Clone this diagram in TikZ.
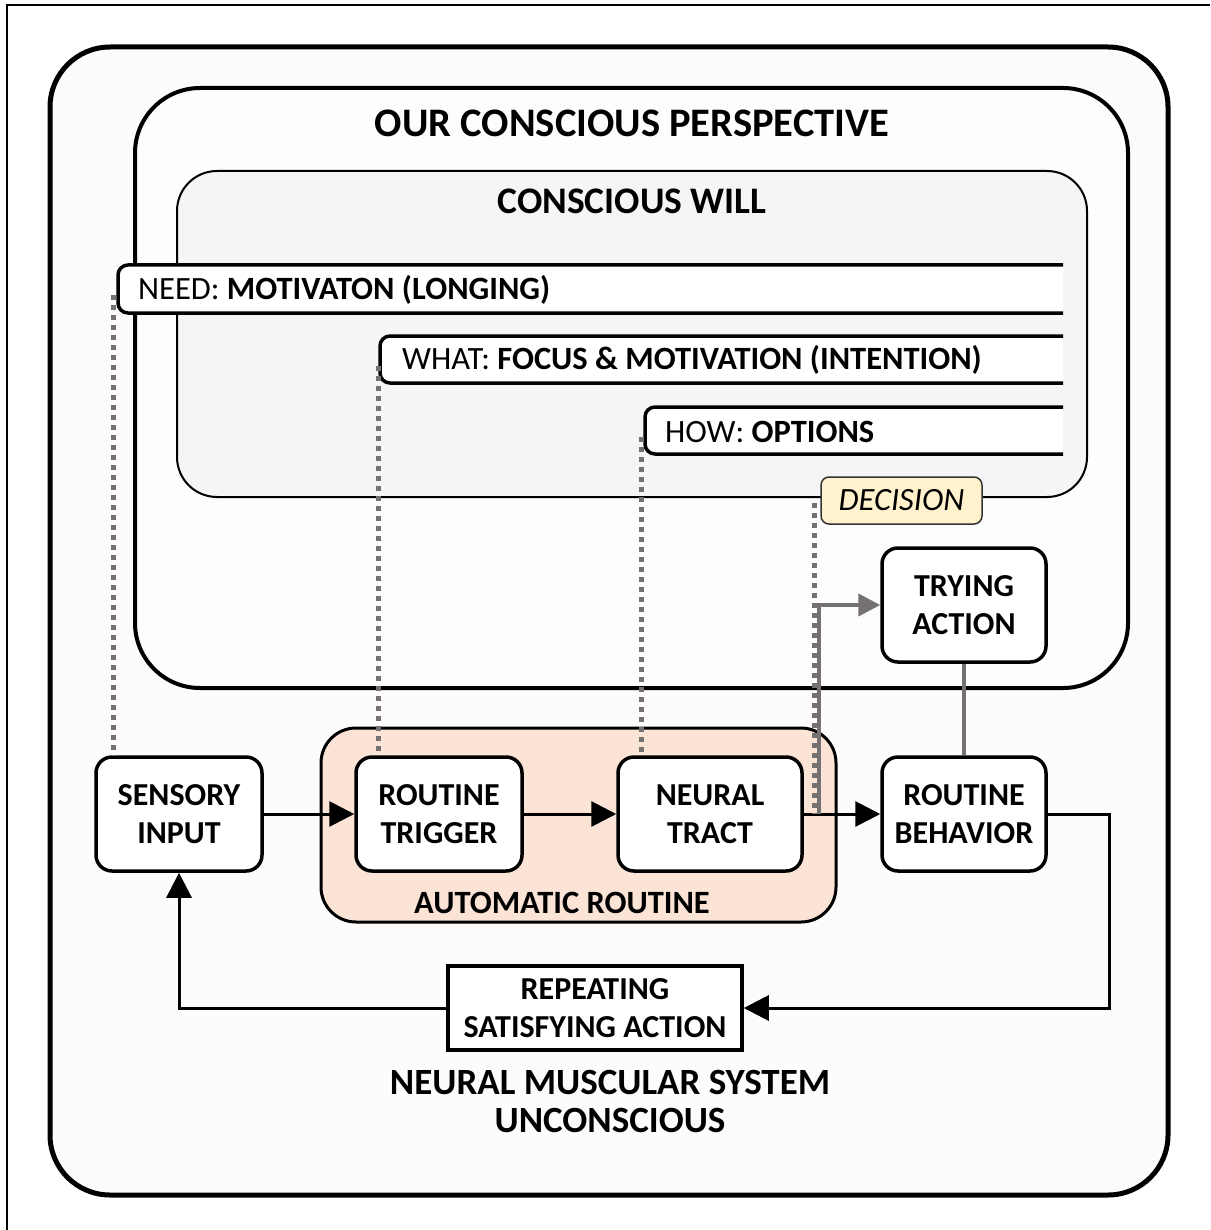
\documentclass[tikz,border=0pt]{standalone}
\usepackage{fontspec}
\setmainfont{Carlito}
\usetikzlibrary{arrows.meta}

\definecolor{fondext}{HTML}{FDFCFB}
\definecolor{fondpersp}{HTML}{FDFDFD}
\definecolor{fondvol}{HTML}{F5F5F5}
\definecolor{rose}{HTML}{FBE3D6}
\definecolor{creme}{HTML}{FFF2CC}
\definecolor{gris}{HTML}{767171}

\tikzset{
  boite/.style={draw, line width=3.5pt, rounded corners=16pt, fill=white,
    minimum width=166pt, minimum height=114pt, align=center, inner sep=0pt,
    font=\fontsize{32}{38}\selectfont\bfseries},
  fleche/.style={-{Triangle[length=25pt,width=25pt]}, line width=3pt},
  flechegrise/.style={-{Triangle[length=22pt,width=22pt]}, line width=4pt, gris},
  pointille/.style={gris, line width=5pt, dash pattern=on 5pt off 5pt},
  barre/.style={line width=3.5pt, rounded corners=10pt, fill=white},
  texte/.style={anchor=west, inner sep=0pt, font=\fontsize{32.5}{38}\selectfont},
}

\begin{document}
\begin{tikzpicture}[x=1pt, y=-1pt]
	\useasboundingbox (0,0) rectangle (1210,1230);
	% Cadre
	\draw[line width=2pt] (7,1230) -- (7,5) -- (1210,5);

	% Systeme inconscient
	\draw[line width=5pt, fill=fondext, rounded corners=60pt] (50,47) rectangle (1168,1195);
	\node[align=center, font=\fontsize{37}{38}\selectfont\bfseries] (inconscient) at (610,1101)
		{NEURAL MUSCULAR SYSTEM\\UNCONSCIOUS};

	% Perspective consciente
	\draw[line width=4pt, fill=fondpersp, rounded corners=65pt] (135,88) rectangle (1128,688);
	\node[font=\fontsize{40.5}{48}\selectfont\bfseries] (titre) at (632,123) {OUR CONSCIOUS PERSPECTIVE};

	% Volonte consciente
	\draw[line width=2pt, fill=fondvol, rounded corners=40pt] (177,171) rectangle (1087,497);
	\node[font=\fontsize{37.5}{42}\selectfont\bfseries] (volonte) at (632,201) {CONSCIOUS WILL};

	% Barres ouvertes a droite
	\filldraw[barre] (1063,265) -- (118,265) -- (118,313) -- (1063,313);
	\filldraw[barre] (1063,336) -- (380,336) -- (380,383) -- (1063,383);
	\filldraw[barre] (1063,407) -- (645,407) -- (645,454) -- (1063,454);
	\node[texte] (besoin) at (138,290) {NEED: \textbf{MOTIVATON (LONGING)}};
	\node[texte] (quoi) at (402,360) {WHAT: \textbf{FOCUS \& MOTIVATION (INTENTION)}};
	\node[texte] (comment) at (665,432) {HOW: \textbf{OPTIONS}};

	% Decision
	\node[draw=black!80, line width=1.5pt, fill=creme, rounded corners=8pt,
		minimum width=161pt, minimum height=47pt, inner sep=0pt,
		font=\fontsize{32.5}{36}\selectfont\itshape] (decision) at (901.5,500.5) {DECISION};

	% Zone automatique
	\draw[line width=3pt, fill=rose, rounded corners=35pt] (321,728) rectangle (836,922);
	\node[font=\fontsize{32.5}{36}\selectfont\bfseries] (auto) at (562,903) {AUTOMATIC ROUTINE};

	% Boites
	\node[boite] (sensory) at (179,814) {SENSORY\\INPUT};
	\node[boite] (trigger) at (439,814) {ROUTINE\\TRIGGER};
	\node[boite, minimum width=184pt] (neural) at (710,814) {NEURAL\\TRACT};
	\node[boite, minimum width=164pt] (behavior) at (964,814) {ROUTINE\\BEHAVIOR};
	\node[boite, minimum width=164pt] (trying) at (964,605) {TRYING\\ACTION};
	\node[boite, rounded corners=0pt, minimum width=294pt, minimum height=84pt] (repeat) at (595,1008)
		{REPEATING\\SATISFYING ACTION};

	% Liens pointilles
	\coordinate (pBesoin) at (113,295);
	\coordinate (pQuoi) at (378,366);
	\coordinate (pComment) at (641,437);
	\coordinate (pDecision) at (814,503);
	\draw[pointille] (pBesoin) -- (pBesoin |- sensory.north);
	\draw[pointille] (pQuoi) -- (pQuoi |- trigger.north);
	\draw[pointille] (pComment) -- (pComment |- neural.north);

	% Fleches principales
	\draw[fleche] (sensory) -- (trigger);
	\draw[fleche] (trigger) -- (neural);
	\draw[fleche] (neural) -- (behavior);
	\draw[fleche] (behavior.east) -- ++(62,0) |- (repeat.east);
	\draw[fleche] (repeat.west) -| (sensory.south);

	% Essai
	\coordinate (depart) at (819,814);
	\draw[flechegrise] (depart) |- (trying.west);
	\draw[pointille] (pDecision) -- (pDecision |- depart);
	\draw[gris, line width=4pt] (trying) -- (behavior);
\end{tikzpicture}
\end{document}
